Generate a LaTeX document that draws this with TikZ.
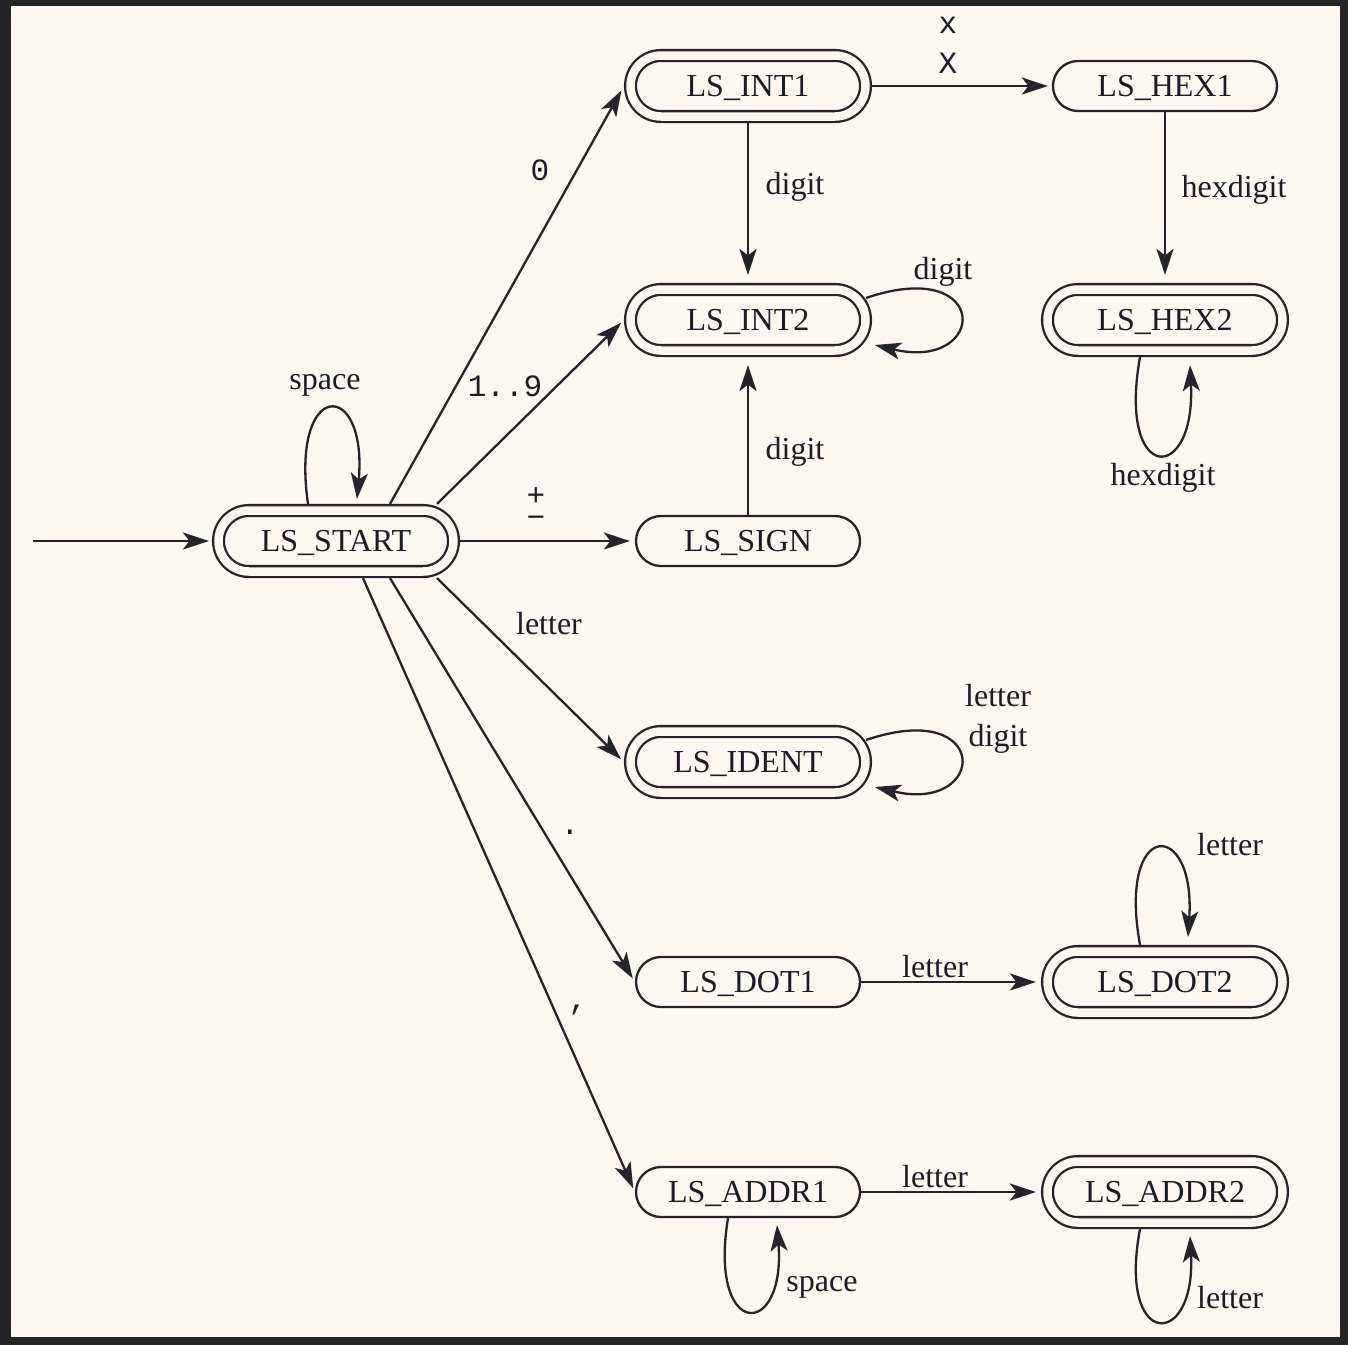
\documentclass[tikz,border=0pt]{standalone}
\usepackage{fontspec}
\setmainfont{Liberation Serif}
\newfontfamily\monof{Liberation Mono}
\usetikzlibrary{arrows.meta,shapes.misc}
\definecolor{bgdark}{HTML}{252528}
\definecolor{cream}{HTML}{FEF6F0}
\definecolor{ink}{HTML}{24242A}
\definecolor{txt}{HTML}{1A1C26}
\begin{document}
\begin{tikzpicture}[x=1pt,y=-1pt,
  st/.style={rounded rectangle, draw=ink, line width=2.3pt, minimum width=224pt,
    minimum height=50pt, inner sep=0pt, text=txt, font=\fontsize{32}{36}\selectfont,
    text height=25pt, text depth=4pt, outer sep=1.15pt},
  acc/.style={st, double=cream, double distance=8.5pt, minimum width=235pt,
    minimum height=61pt, outer sep=6.6pt},
  lbl/.style={inner sep=0pt, text=txt, font=\fontsize{32}{36}\selectfont},
  mlbl/.style={inner sep=0pt, text=txt, font=\monof\fontsize{31}{36}\selectfont},
  tight/.style={text height=0.6em, text depth=0pt},
  arr/.style={draw=ink, line width=2.3pt, -{Stealth[length=26pt,width=17pt,inset=6.5pt]}}
]
\useasboundingbox (0,0) rectangle (1348,1345);
\fill[bgdark] (0,0) rectangle (1348,1345);
\fill[cream] (11,6) rectangle (1340,1337);

% states
\node[acc] (START) at (336,541) {LS\_START};
\node[acc] (INT1)  at (748,86)  {LS\_INT1};
\node[st]  (HEX1)  at (1165,86) {LS\_HEX1};
\node[acc] (INT2)  at (748,320) {LS\_INT2};
\node[acc] (HEX2)  at (1165,320) {LS\_HEX2};
\node[st]  (SIGN)  at (748,541) {LS\_SIGN};
\node[acc] (IDENT) at (748,762) {LS\_IDENT};
\node[st]  (DOT1)  at (748,982) {LS\_DOT1};
\node[acc] (DOT2)  at (1165,982) {LS\_DOT2};
\node[st]  (ADDR1) at (748,1192) {LS\_ADDR1};
\node[acc] (ADDR2) at (1165,1192) {LS\_ADDR2};

% initial arrow
\coordinate (init) at (33,541);
\draw[arr, shorten >=3pt] (init) -- (START.west);

% transitions from START
\draw[arr, shorten >=5pt] ([xshift=54pt]START.north) -- (INT1.west);
\draw[arr, shorten >=4pt] ([xshift=101pt]START.north) -- (INT2.west);
\draw[arr, shorten >=5pt] (START.east) -- (SIGN.west);
\draw[arr, shorten >=4pt] ([xshift=101pt]START.south) -- (IDENT.west);
\draw[arr, shorten >=4pt] ([xshift=54pt]START.south) -- (DOT1.west);
\draw[arr, shorten >=4pt] ([xshift=27pt]START.south) -- (ADDR1.west);

% other straight transitions
\draw[arr, shorten >=4pt] (INT1.east) -- (HEX1.west);
\draw[arr, shorten >=8pt] (INT1.south) -- (INT2.north);
\draw[arr, shorten >=8pt] (HEX1.south) -- (HEX2.north);
\draw[arr, shorten >=8pt] (SIGN.north) -- (INT2.south);
\draw[arr, shorten >=5pt] (DOT1.east) -- (DOT2.west);
\draw[arr, shorten >=5pt] (ADDR1.east) -- (ADDR2.west);

% loops
\draw[arr] ([xshift=-28pt]START.north) .. controls (290,378) and (368,378) .. ([xshift=21pt,yshift=5pt]START.north);
\draw[arr] ([shift={(118pt,22pt)}]INT2.center) .. controls (992,255) and (988,372) .. ([shift={(127pt,-25pt)}]INT2.center);
\draw[arr] ([shift={(118pt,22pt)}]IDENT.center) .. controls (992,697) and (988,814) .. ([shift={(127pt,-25pt)}]IDENT.center);
\draw[arr] ([xshift=-25pt]HEX2.south) .. controls (1117,485) and (1196,485) .. ([xshift=25pt,yshift=-8pt]HEX2.south);
\draw[arr] ([xshift=-25pt]DOT2.north) .. controls (1117,818) and (1196,818) .. ([xshift=23pt,yshift=8pt]DOT2.north);
\draw[arr] ([xshift=-20pt]ADDR1.south) .. controls (708,1340) and (786,1340) .. ([xshift=29pt,yshift=-7pt]ADDR1.south);
\draw[arr] ([xshift=-25pt]ADDR2.south) .. controls (1117,1350) and (1196,1350) .. ([xshift=25pt,yshift=-7pt]ADDR2.south);

% labels
\node[lbl]  (lspace1) at (325,385) {space};
\node[mlbl] (lzero)   at (540,170) {0};
\node[mlbl] (lonenine) at (505,386) {1..9};
\node[mlbl, tight] (lplus)   at (536,502) {+};
\node[mlbl, tight] (lminus)  at (536,524) {−};
\node[lbl]  (lletter1) at (549,624) {letter};
\node[mlbl] (ldot)    at (570,832) {.};
\node[mlbl] (lcomma)  at (578,1010) {,};
\node[mlbl] (lx)      at (948,25) {x};
\node[mlbl] (lX)      at (948,63) {X};
\node[lbl]  (ldigit1) at (795,187) {digit};
\node[lbl]  (lhex1)   at (1234,190) {hexdigit};
\node[lbl]  (ldigit2) at (943,272) {digit};
\node[lbl]  (ldigit3) at (795,452) {digit};
\node[lbl]  (lhex2)   at (1163,478) {hexdigit};
\node[lbl, align=center, font=\fontsize{32}{40}\selectfont] (lletdig) at (998,719) {letter\\digit};
\node[lbl]  (lletter2) at (935,967) {letter};
\node[lbl]  (lletter3) at (1230,845) {letter};
\node[lbl]  (lletter4) at (935,1177) {letter};
\node[lbl]  (lspace2) at (822,1287) {space};
\node[lbl]  (lletter5) at (1230,1298) {letter};
\end{tikzpicture}
\end{document}
